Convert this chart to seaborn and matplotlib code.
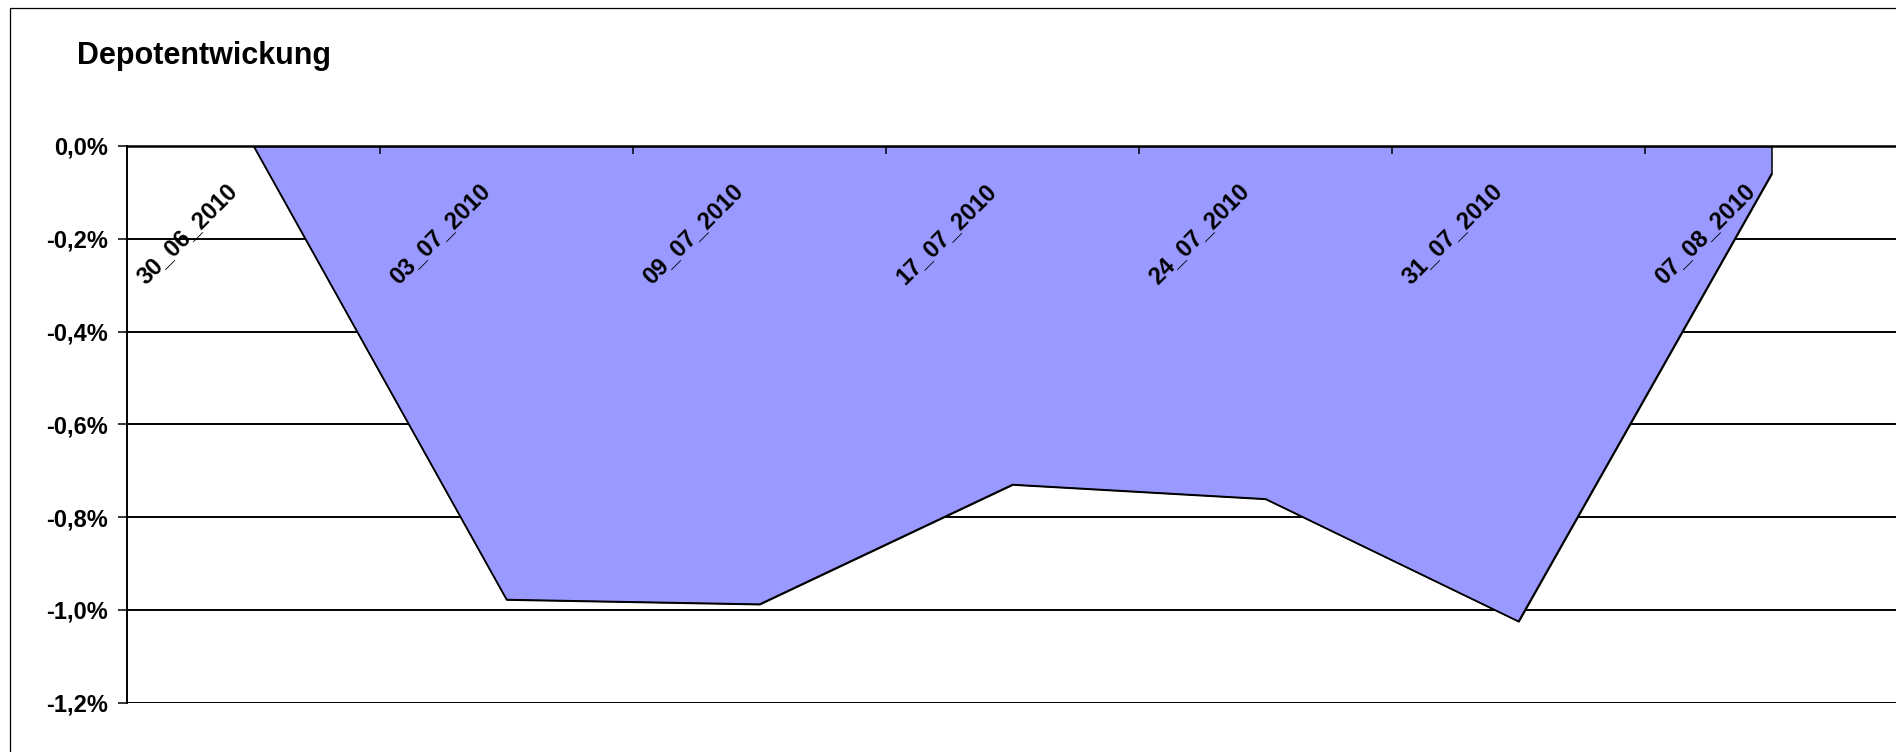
import numpy as np
import pandas as pd
import matplotlib
matplotlib.use('Agg')
import matplotlib.pyplot as plt
import matplotlib.transforms as mtransforms
from matplotlib.patches import Rectangle
import seaborn as sns

# data (percent)
dates = ['30_06_2010', '03_07_2010', '09_07_2010', '17_07_2010',
         '24_07_2010', '31_07_2010', '07_08_2010']
depot = [0.0, -0.978, -0.988, -0.730, -0.761, -1.025, -0.060]
y_ticks = [0.0, -0.2, -0.4, -0.6, -0.8, -1.0, -1.2]
y_labels = [f"{v:.1f}%".replace('.', ',') for v in y_ticks]

sns.set_theme(style='white')
plt.rcParams['font.family'] = ['Liberation Sans', 'DejaVu Sans']
plt.rcParams['font.weight'] = 'bold'

df = pd.DataFrame({'pos': np.arange(len(dates)), 'wert': depot})

W, H = 1896, 752
fig = plt.figure(figsize=(W / 100, H / 100), dpi=100)
ax = fig.add_axes([127 / W, 1 - 702.5 / H, 1771 / W, (702.5 - 146) / H])
ax.set_axisbelow(False)

# horizontal grid lines behind the area
ax.hlines(y_ticks, -0.5, 6.5, colors='black', linewidth=1.4, zorder=1)

ax.fill_between(df['pos'], df['wert'], 0, facecolor='#9999FF',
                edgecolor='black', linewidth=1.1, zorder=2)
sns.lineplot(data=df, x='pos', y='wert', color='black', linewidth=1.1,
             ax=ax, zorder=2.2)

ax.set_xlim(-0.5, 6.5)
ax.set_ylim(-1.2, 0)
ax.set_xlabel('')
ax.set_ylabel('')

# category axis sits at 0 (top of plot)
ax.spines['bottom'].set_position(('data', 0))
ax.spines['bottom'].set_linewidth(1.8)
ax.spines['left'].set_linewidth(1.4)
for s in ['top', 'right']:
    ax.spines[s].set_visible(False)
for s in ['bottom', 'left']:
    ax.spines[s].set_color('black')
    ax.spines[s].set_zorder(4)

ax.set_xticks(np.arange(0.5, 6, 1))
ax.set_xticklabels([])
ax.set_xticks(np.arange(len(dates)), dates, minor=True)
ax.tick_params(axis='x', which='major', bottom=True, direction='out',
               length=5.8, width=1.1, color='black')
ax.tick_params(axis='x', which='minor', bottom=True, length=0, pad=30,
               labelsize=17, labelcolor='black')
shift = mtransforms.ScaledTranslation(-0.2, 0, fig.dpi_scale_trans)
for lab in ax.get_xticklabels(minor=True):
    lab.set_rotation(45)
    lab.set_ha('right')
    lab.set_va('center')
    lab.set_rotation_mode('anchor')
    lab.set_fontweight('bold')
    lab.set_transform(lab.get_transform() + shift)

ax.set_yticks(y_ticks, y_labels)
ax.tick_params(axis='y', left=True, direction='out', length=6.5, width=1.1,
               color='black', pad=7.2, labelsize=17, labelcolor='black')
for lab in ax.get_yticklabels():
    lab.set_fontweight('bold')

# title and outer chart border
fig.text(77 / W, 1 - 64 / H, 'Depotentwickung', fontsize=22,
         fontweight='bold', va='baseline', ha='left', color='black')
fig.add_artist(Rectangle((10 / W, -0.5), 2, 1 - 8 / H + 0.5,
                         transform=fig.transFigure, fill=False,
                         edgecolor='black', linewidth=0.9, clip_on=False))

fig.savefig('out.png', dpi=100)
